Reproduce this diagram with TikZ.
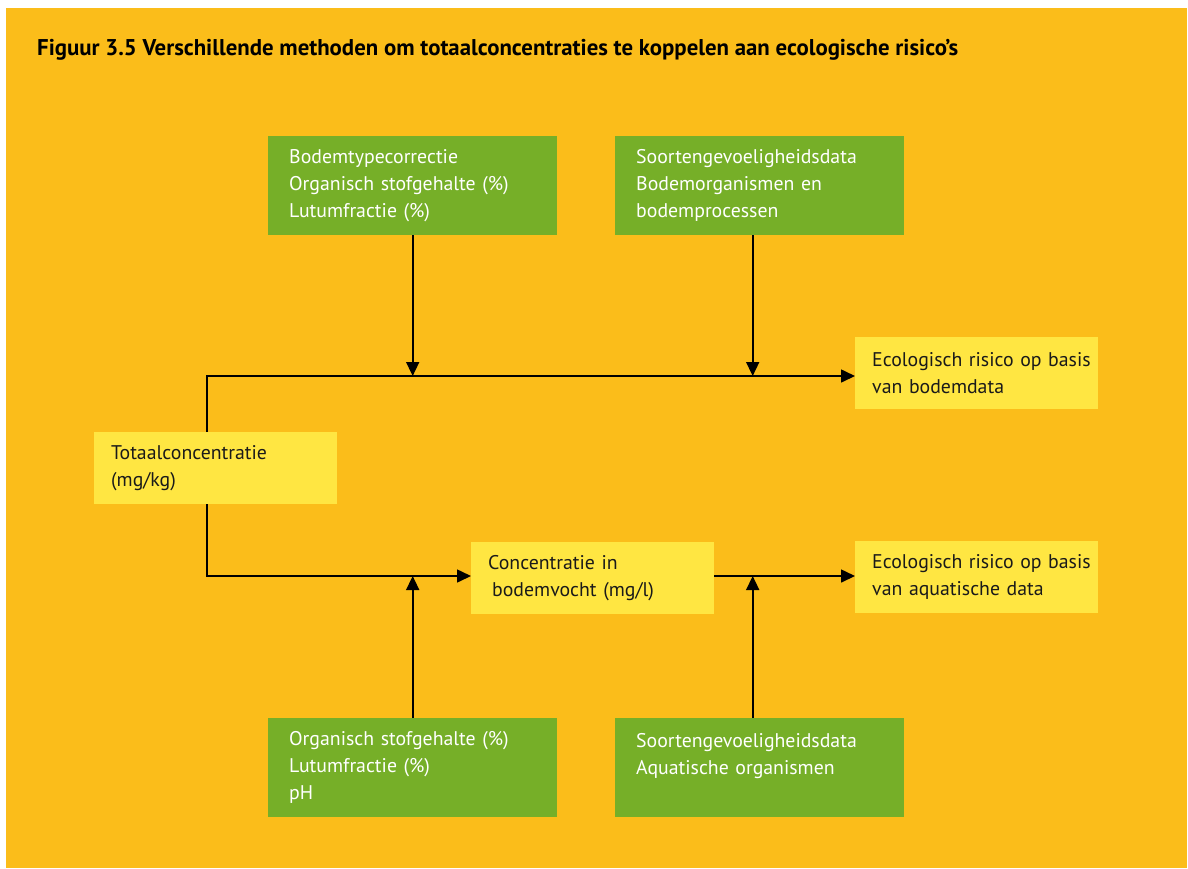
\documentclass[tikz,border=0pt]{standalone}
\usepackage{fontspec}
\setmainfont{PT Sans}
\usetikzlibrary{arrows.meta}
\definecolor{oranje}{HTML}{FBBD1A}
\definecolor{lichtgeel}{HTML}{FFE642}
\definecolor{groen}{HTML}{76AF28}
\definecolor{inkt}{HTML}{1A1A1A}
\tikzset{
  groenvak/.style={fill=groen, text=white, anchor=north west, minimum width=289pt,
    minimum height=99pt, text width=247pt, inner xsep=21pt, inner ysep=0pt,
    align=left, font=\fontsize{19.8}{27}\selectfont},
  geelvak/.style={fill=lichtgeel, text=inkt, anchor=north west, minimum width=243pt,
    minimum height=72pt, text width=209pt, inner xsep=17pt, inner ysep=0pt,
    align=left, font=\fontsize{19.8}{27}\selectfont},
  pijl/.style={line width=1.6pt, -{Triangle[length=14pt,width=13pt]}}
}
\begin{document}
\begin{tikzpicture}[x=1pt, y=-1pt]
            \useasboundingbox (0,0) rectangle (1188,868);
            \fill[white] (0,0) rectangle (1188,868);
            \fill[oranje] (6,8) rectangle (1187,868);

            \node[anchor=west, inner sep=0pt, text=black, font=\bfseries\fontsize{22.8}{26}\selectfont] (titel) at (37,50) {Figuur 3.5 Verschillende methoden om totaalconcentraties te koppelen aan ecologische risico’s};

            \node[groenvak] (bodem) at (268,136) {Bodemtypecorrectie\\Organisch stofgehalte (\%)\\Lutumfractie (\%)};
            \node[groenvak] (soortbod) at (615,136) {Soortengevoeligheidsdata\\Bodemorganismen en\\bodemprocessen};
            \node[geelvak] (ecobod) at (855,337) {\mbox{Ecologisch risico op basis}\\van bodemdata};
            \node[geelvak] (totaal) at (94,432) {Totaalconcentratie\\(mg/kg)};
            \node[geelvak] (conc) at (471,542) {Concentratie in\\\hspace*{0.2em}bodemvocht (mg/l)};
            \node[geelvak] (ecoaq) at (855,541) {\mbox{Ecologisch risico op basis}\\van aquatische data};
            \node[groenvak] (fysch) at (268,718) {Organisch stofgehalte (\%)\\Lutumfractie (\%)\\pH};
            \node[groenvak] (soortaq) at (615,718) {Soortengevoeligheidsdata\\Aquatische organismen\\~};

            \coordinate (hoekboven) at (207,376);
            \coordinate (hoekonder) at (207,576);

            \draw[pijl] (totaal.north -| hoekboven) -- (hoekboven) -- (ecobod.west |- hoekboven);
            \draw[pijl] (bodem.south) -- (bodem.south |- hoekboven);
            \draw[pijl] ([xshift=-7pt]soortbod.south) -- ([xshift=-7pt]soortbod.south |- hoekboven);
            \draw[pijl] (totaal.south -| hoekonder) -- (hoekonder) -- (conc.west |- hoekonder);
            \draw[pijl] (conc.east |- hoekonder) -- (ecoaq.west |- hoekonder);
            \draw[pijl] (fysch.north) -- (fysch.north |- hoekonder);
            \draw[pijl] ([xshift=-7pt]soortaq.north) -- ([xshift=-7pt]soortaq.north |- hoekonder);
        \end{tikzpicture}
\end{document}
